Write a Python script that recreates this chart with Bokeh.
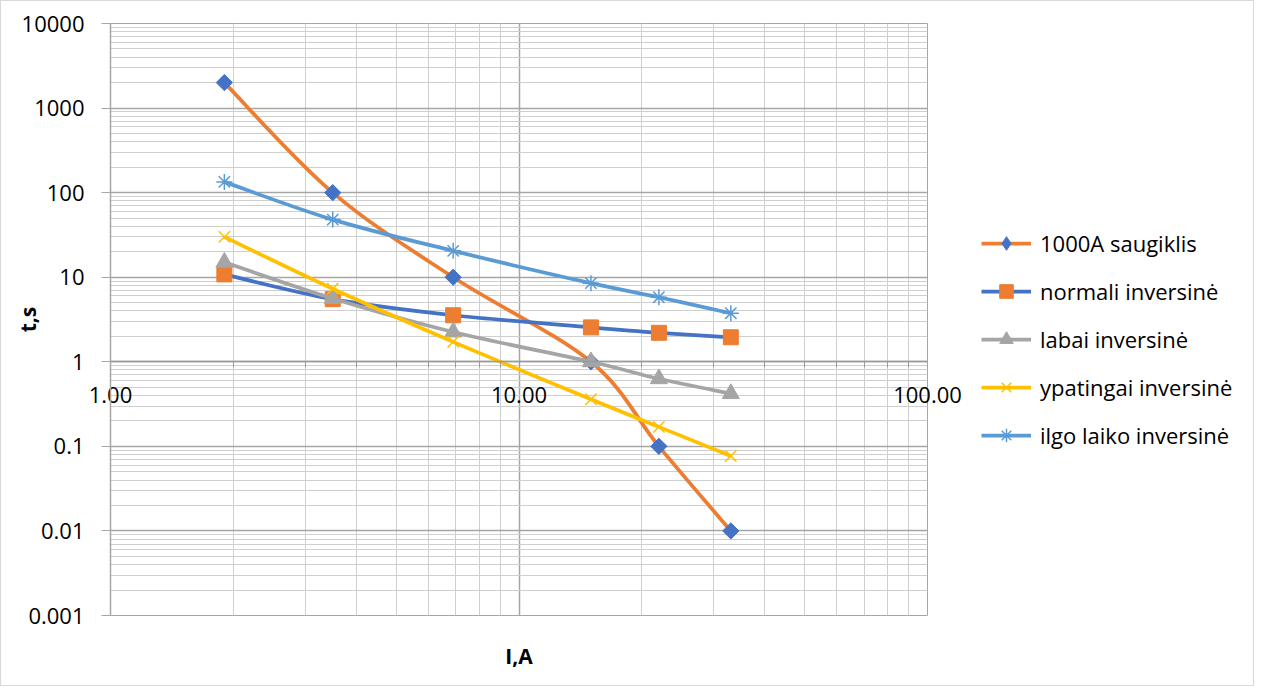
import numpy as np
from bokeh.plotting import figure
from bokeh.layouts import row
from bokeh.models import FixedTicker, Legend, LegendItem, ColumnDataSource, LogAxis
from bokeh.embed import file_html
from bokeh.resources import INLINE

# ---- data -------------------------------------------------------------
current = [1.9, 3.5, 6.9, 15, 22, 33]
fuse_1000a = [2000, 100, 10, 1, 0.1, 0.01]
normal_inverse = [10.8, 5.5, 3.55, 2.55, 2.2, 1.95]
very_inverse = [15, 5.6, 2.25, 1.0, 0.63, 0.42]
extremely_inverse = [30, 7.3, 1.72, 0.36, 0.17, 0.077]
long_time_inverse = [134, 48, 20.5, 8.5, 5.8, 3.75]

series_names = ["1000A saugiklis", "normali inversinė", "labai inversinė",
                "ypatingai inversinė", "ilgo laiko inversinė"]

x_ticks = [1, 10, 100]
x_tick_labels = ["1.00", "10.00", "100.00"]
y_ticks = [0.001, 0.01, 0.1, 1, 10, 100, 1000, 10000]
y_tick_labels = ["0.001", "0.01", "0.1", "1", "10", "100", "1000", "10000"]

x_title = "I,A"
y_title = "t,s"

# ---- styles -----------------------------------------------------------
FONT = "Open Sans"
LW = 3.75
styles = [
    dict(line="#ED7D31", marker="square", leg_marker="diamond", angle=np.pi / 4, size=11.5,
         fill="#4472C4", mline="#4472C4", mwidth=1),
    dict(line="#4472C4", marker="square", leg_marker="square", angle=0, size=15,
         fill="#ED7D31", mline="#ED7D31", mwidth=1),
    dict(line="#A5A5A5", marker="triangle", leg_marker="triangle", angle=0, size=17,
         fill="#A5A5A5", mline="#A5A5A5", mwidth=1),
    dict(line="#FFC000", marker="x", leg_marker="x", angle=0, size=16,
         fill="#FFC000", mline="#FFC000", mwidth=1.5),
    dict(line="#5B9BD5", marker="asterisk", leg_marker="asterisk", angle=0, size=16,
         fill="#5B9BD5", mline="#5B9BD5", mwidth=1.5),
]


def smooth_segments(xs, ys):
    """Bezier control points (Catmull-Rom style) computed in log space."""
    lx = np.log10(np.asarray(xs, dtype=float))
    ly = np.log10(np.asarray(ys, dtype=float))
    n = len(lx)
    c0x, c0y, c1x, c1y = [], [], [], []
    for i in range(n - 1):
        ip = i - 1 if i > 0 else i
        inn = i + 2 if i + 2 < n else i + 1
        c0x.append(lx[i] + (lx[i + 1] - lx[ip]) / 6)
        c0y.append(ly[i] + (ly[i + 1] - ly[ip]) / 6)
        c1x.append(lx[i + 1] - (lx[inn] - lx[i]) / 6)
        c1y.append(ly[i + 1] - (ly[inn] - ly[i]) / 6)
    return dict(x0=list(xs[:-1]), y0=list(ys[:-1]), x1=list(xs[1:]), y1=list(ys[1:]),
                cx0=list(10 ** np.array(c0x)), cy0=list(10 ** np.array(c0y)),
                cx1=list(10 ** np.array(c1x)), cy1=list(10 ** np.array(c1y)))


H = 684
W_MAIN = 966
W_LEG = 286

p = figure(width=W_MAIN, height=H, x_axis_type="log", y_axis_type="log",
           x_range=(1, 100), y_range=(0.001, 10000),
           output_backend="svg", toolbar_location=None,
           min_border_left=109, min_border_right=40,
           min_border_top=22, min_border_bottom=70)
p.background_fill_color = "white"
p.border_fill_color = "white"
p.outline_line_color = "#A6A6A6"

x_minor = [m * t for t in x_ticks[:-1] for m in range(2, 10)]
y_minor = [m * t for t in y_ticks[:-1] for m in range(2, 10)]
xt = FixedTicker(ticks=x_ticks, minor_ticks=x_minor)
yt = FixedTicker(ticks=y_ticks, minor_ticks=y_minor)

# bottom axis: carries the tick labels (lifted up to sit under the t = 1 line) and the title
xa = p.xaxis[0]
xa.ticker = xt
xa.major_label_overrides = dict(zip(x_ticks, x_tick_labels))
xa.axis_line_color = None
xa.major_tick_out = 0
xa.major_tick_in = 0
xa.minor_tick_out = 0
xa.minor_tick_in = 0
xa.major_label_standoff = -229
xa.major_label_text_font = FONT
xa.major_label_text_font_size = "22px"
xa.major_label_text_color = "black"
xa.axis_label = x_title
xa.axis_label_text_font = FONT
xa.axis_label_text_font_size = "21px"
xa.axis_label_text_font_style = "bold"
xa.axis_label_text_color = "black"
xa.axis_label_standoff = 236

# axis line + ticks crossing at t = 1
xc = LogAxis(ticker=xt, fixed_location=1, axis_line_color="#9A9A9A", axis_line_width=1.5,
             major_tick_line_color="#9A9A9A", minor_tick_line_color="#9A9A9A",
             major_tick_out=6, major_tick_in=0, minor_tick_out=6, minor_tick_in=0,
             major_label_text_alpha=0, major_label_text_font_size="1px")
p.add_layout(xc, "below")

ya = p.yaxis[0]
ya.ticker = yt
ya.major_label_overrides = dict(zip(y_ticks, y_tick_labels))
ya.axis_line_color = "#A6A6A6"
ya.axis_line_width = 1.5
ya.major_tick_line_color = "#A6A6A6"
ya.major_tick_out = 9
ya.major_tick_in = 0
ya.minor_tick_out = 0
ya.minor_tick_in = 0
ya.major_label_standoff = 17
ya.major_label_text_font = FONT
ya.major_label_text_font_size = "22px"
ya.major_label_text_color = "black"
ya.axis_label = y_title
ya.axis_label_text_font = FONT
ya.axis_label_text_font_size = "21px"
ya.axis_label_text_font_style = "bold"
ya.axis_label_text_color = "black"
ya.axis_label_standoff = -23

p.xgrid.ticker = xt
p.ygrid.ticker = yt
for g in (p.xgrid, p.ygrid):
    g.grid_line_color = "#A6A6A6"
    g.grid_line_width = 1.5
    g.minor_grid_line_color = "#CFCFCF"
    g.minor_grid_line_width = 1

# legend panel (a plain figure whose frame holds only the legend)
lf = figure(width=W_LEG, height=H, x_range=(0, 1), y_range=(0, 1),
            output_backend="svg", toolbar_location=None,
            min_border=0, min_border_left=0, min_border_right=0,
            min_border_top=0, min_border_bottom=0)
lf.axis.visible = False
lf.grid.visible = False
lf.outline_line_color = None
lf.background_fill_color = "white"
lf.border_fill_color = "white"

all_series = [fuse_1000a, normal_inverse, very_inverse, extremely_inverse, long_time_inverse]
items = []
for name, ys, st in zip(series_names, all_series, styles):
    seg = ColumnDataSource(smooth_segments(current, ys))
    pts = ColumnDataSource(dict(x=current, y=ys))
    line_kw = dict(x0="x0", y0="y0", x1="x1", y1="y1", cx0="cx0", cy0="cy0", cx1="cx1", cy1="cy1",
                   source=seg, line_color=st["line"], line_width=LW)
    mark_kw = dict(source=pts, size=st["size"],
                   fill_color=st["fill"], line_color=st["mline"], line_width=st["mwidth"])
    p.bezier(**line_kw)
    p.scatter("x", "y", marker=st["marker"], angle=st["angle"], **mark_kw)
    # same series in the legend figure (outside its view, only used for the legend keys)
    bz = lf.bezier(**line_kw)
    sc = lf.scatter("x", "y", marker=st["leg_marker"], **mark_kw)
    items.append(LegendItem(label=name, renderers=[bz, sc]))

legend = Legend(items=items, location=(14, 163), border_line_color=None,
                background_fill_alpha=0, padding=0, margin=0, spacing=14,
                glyph_width=50, glyph_height=34, label_height=34, label_standoff=9,
                label_text_font=FONT, label_text_font_size="22px", label_text_color="black")
lf.add_layout(legend, "center")

layout = row(p, lf, styles={"border": "1px solid #D9D9D9"})

open("out.html", "w").write(file_html(layout, INLINE))
